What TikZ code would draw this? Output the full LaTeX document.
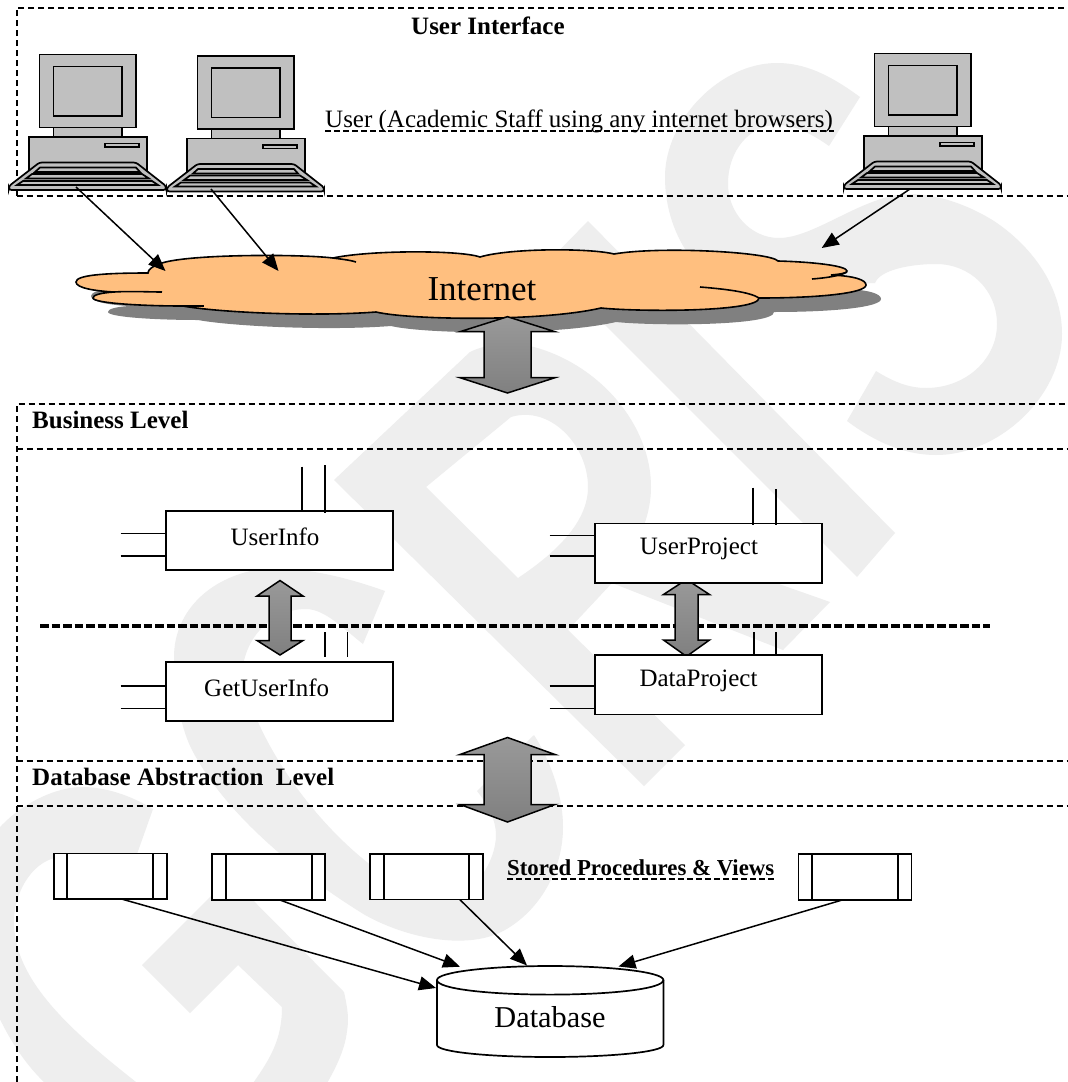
\documentclass[tikz,border=0pt]{standalone}
\usepackage{fontspec}
\setmainfont{Liberation Serif}
\usetikzlibrary{arrows.meta,calc}
\definecolor{wm}{HTML}{EEEEEE}
\definecolor{pcgrey}{HTML}{C0C0C0}
\definecolor{cloudor}{HTML}{FFBF7F}
\definecolor{shadowg}{HTML}{808080}
\newcommand\computer[2]{%
\begin{scope}[shift={(#1,#2)},line width=1.7pt,fill=pcgrey]
 \filldraw (39.5,54.5) rectangle (136,127.5);
 \filldraw (53.5,66.5) rectangle (122,116);
 \filldraw (53.5,127.5) rectangle (122,137);
 \filldraw (29,137) rectangle (147,172);
 \filldraw (105,143.5) rectangle (139,147);
 \filldraw[rounded corners=2.5pt] (39.5,162.5) -- (136,162.5) -- (166,186) -- (166,190) -- (9,190) -- (9,186) -- cycle;
 \filldraw (40,167.5) -- (136,167.5) -- (140,172) -- (35,172) -- cycle;
 \filldraw (32,174) -- (142,174) -- (149,178.5) -- (26,178.5) -- cycle;
 \filldraw (23,181) -- (152,181) -- (158,185) -- (17,185) -- cycle;
\end{scope}}
\newcommand\fatarr[8]{% cx ttip twing tbwing btip hwing hshaft name
\path[fatarrow] (#1,#2) -- (#1+#6,#3) -- (#1+#7,#3) -- (#1+#7,#4) -- (#1+#6,#4) -- (#1,#5) -- (#1-#6,#4) -- (#1-#7,#4) -- (#1-#7,#3) -- (#1-#6,#3) -- cycle;}
\newcommand\cloudpath{(148,273) .. controls (105,273) and (76,275) .. (76,282) .. controls (76,288) and (95,291) .. (114,292)
 .. controls (100,293) and (93,295) .. (93,298) .. controls (93,303) and (140,306) .. (183,306)
 .. controls (215,312) and (310,317) .. (376,312) .. controls (410,320) and (540,322) .. (601,308)
 .. controls (640,312) and (759,312) .. (759,298) .. controls (820,298) and (866,293) .. (866,285)
 .. controls (866,280) and (855,276) .. (831,275) .. controls (842,274) and (847,273) .. (847,271)
 .. controls (847,266) and (815,262) .. (778,261) .. controls (770,252) and (660,246) .. (614,254)
 .. controls (590,248) and (510,248) .. (480,257) .. controls (460,250) and (370,250) .. (333,258)
 .. controls (300,254) and (190,254) .. (162,263) .. controls (152,266) and (148,270) .. (148,273) -- cycle}
\tikzset{
 lvl/.style={line width=2pt,dash pattern=on 6pt off 4pt},
 midline/.style={line width=3.2pt,dash pattern=on 8.5pt off 3pt},
 fatarrow/.style={draw=black,line width=1.5pt,top color=black!40,bottom color=shadowg},
 classbox/.style={draw=black,fill=white,line width=1.7pt,inner sep=0pt,outer sep=0pt},
 procbox/.style={draw=black,fill=white,line width=1.7pt,inner sep=0pt,outer sep=0pt,minimum height=45.5pt,minimum width=113pt},
 stub/.style={line width=1.6pt},
 conn/.style={line width=1.5pt,-{Triangle[length=17pt,width=14pt]}},
 lab/.style={font=\fontsize{25pt}{27pt}\selectfont,inner sep=0pt},
 blab/.style={font=\fontsize{25pt}{27pt}\selectfont\bfseries,inner sep=0pt,anchor=base west},
 wmark/.style={fill=wm,even odd rule}
}
\begin{document}
\begin{tikzpicture}[x=1pt,y=-1pt]
\useasboundingbox (0,0) rectangle (1068,1082);
\fill[white] (0,0) rectangle (1068,1082);
% watermark
\begin{scope}
\clip (0,0) rectangle (1068,1082);
% S
\fill[wmark] (860,97) .. controls (830,75) and (805,63) .. (777,63) .. controls (720,63) and (665,120) .. (665,177)
 .. controls (665,215) and (680,250) .. (704,272) .. controls (725,295) and (750,306) .. (779,306)
 .. controls (810,306) and (845,283) .. (875,283) .. controls (880,270) and (910,264) .. (936,264)
 .. controls (970,264) and (997,290) .. (997,324) .. controls (997,360) and (965,388) .. (926,388)
 .. controls (908,388) and (892,381) .. (876,371) -- (847,421) .. controls (875,442) and (905,455) .. (936,455)
 .. controls (1000,455) and (1062,395) .. (1062,334) .. controls (1062,285) and (1030,245) .. (994,221)
 .. controls (965,203) and (935,194) .. (909,194) .. controls (865,194) and (815,238) .. (779,238)
 .. controls (750,238) and (728,212) .. (728,184) .. controls (728,150) and (750,125) .. (777,125)
 .. controls (795,125) and (812,134) .. (829,146) -- cycle;
% I
\fill[wmark] (588,221) -- (895,533) -- (857,577) -- (545,265) -- cycle;
% R
\fill[wmark] (334,480) -- (470,352) .. controls (490,342) and (515,343) .. (534,347)
 .. controls (600,365) and (651,425) .. (651,487) .. controls (651,505) and (646,522) .. (640,535)
 -- (830,602) -- (783,650) -- (612,583) -- (568,630) -- (685,745) -- (644,786) -- cycle
 (426,487) -- (511,417) .. controls (550,405) and (588,445) .. (588,487) .. controls (588,520) and (560,550) .. (518,578) -- cycle;
% C
\fill[wmark] (385,591) .. controls (340,575) and (295,565) .. (255,570) .. controls (205,580) and (174,615) .. (174,657)
 .. controls (174,690) and (180,725) .. (191,748) .. controls (225,815) and (300,875) .. (365,915)
 .. controls (410,940) and (470,950) .. (505,930) .. controls (540,910) and (563,870) .. (563,827)
 .. controls (563,795) and (550,760) .. (534,735) -- (477,791) .. controls (488,805) and (496,820) .. (496,835)
 .. controls (496,860) and (475,898) .. (443,898) .. controls (385,898) and (272,790) .. (242,678)
 .. controls (242,640) and (270,609) .. (306,609) .. controls (325,609) and (345,630) .. (363,644) -- cycle;
% G
\fill[wmark] (153,809) .. controls (130,795) and (105,787) .. (82,787) .. controls (40,787) and (-30,830) .. (-30,900)
 .. controls (-30,960) and (0,1040) .. (44,1082) -- (136,1082) .. controls (70,1030) and (14,980) .. (14,922)
 .. controls (14,890) and (35,857) .. (63,857) .. controls (85,857) and (105,870) .. (126,885) -- cycle;
\fill[wmark] (142,965) -- (230,877) -- (344,992) .. controls (348,1010) and (349,1020) .. (347,1031) .. controls (345,1050) and (335,1070) .. (323,1090) -- (248,1090)
 .. controls (270,1060) and (282,1040) .. (282,1007) -- (238,965) -- (190,1013) -- cycle;
\end{scope}
% level boundaries
\draw[lvl] (16.7,196) -- (16.7,7.5) -- (1068,7.5);
\draw[lvl] (16.7,196) -- (1068,196);
\draw[lvl] (16.7,1082) -- (16.7,404) -- (1068,404);
\draw[lvl] (16.7,449) -- (1068,449);
\draw[lvl] (16.7,761) -- (1068,761);
\draw[lvl] (16.7,806) -- (1068,806);
% titles
\node[blab] (t1) at (411,34) {User Interface};
\node[blab] (t2) at (32,428) {Business Level};
\node[blab] (t3) at (32,785) {Database Abstraction\ \ Level};
% computers
\computer{0}{0}
\computer{158}{1.5}
\computer{835}{-1}
% users label
\node[lab,anchor=base west] (ulab) at (325,127) {User (Academic Staff using any internet browsers)};
\draw[line width=1.5pt,dash pattern=on 6pt off 3pt] (325,131) -- (834,131);
% cloud
\fill[shadowg,shift={(15,14)}] \cloudpath;
\draw[fill=cloudor,line width=1.6pt] \cloudpath;
\draw[line width=1.6pt] (700,287) .. controls (725,289) and (750,292) .. (759,298);
\draw[line width=1.6pt] (812,279) .. controls (825,278) and (840,276) .. (847,272);
\draw[line width=1.6pt] (333,258) .. controls (340,259) and (350,260) .. (356,262);
\draw[line width=1.6pt] (114,292) .. controls (130,291) and (150,292) .. (162,292);
\draw[line width=1.6pt] (183,306) -- (204,306);
\node[lab,font=\fontsize{35pt}{37pt}\selectfont] (inet) at (482,289) {Internet};
% arrows computers to cloud
\coordinate (pc1) at (76,187);
\coordinate (pc2) at (211,189);
\coordinate (pc3) at (910,189);
\coordinate (c1) at (165.5,271);
\coordinate (c2) at (278.5,271);
\coordinate (c3) at (821.7,248);
\draw[conn] (pc1) -- (c1);
\draw[conn] (pc2) -- (c2);
\draw[conn] (pc3) -- (c3);
% big arrows
\fatarr{507.5}{316.7}{331.7}{377.7}{393}{47.5}{23.5}{a}
% mid dashed line
\draw[midline] (40,626) -- (990,626);
\fatarr{507.5}{737.5}{754.5}{804.5}{822}{47.5}{23.5}{b}
\fatarr{280}{580.5}{596}{640.5}{655}{23}{11}{c}
\fatarr{686.5}{579.5}{594.5}{640}{656.4}{23}{11.5}{d}
% business boxes
\node[classbox,minimum width=226.4pt,minimum height=59.3pt] (ui) at (279.5,540.3) {};
\node[classbox,minimum width=226.4pt,minimum height=59pt] (gui) at (279.5,691.2) {};
\node[classbox,minimum width=226.5pt,minimum height=59.5pt] (up) at (708.5,553.2) {};
\node[classbox,minimum width=226.5pt,minimum height=59.6pt] (dp) at (708.5,684.8) {};
\node[lab] (uilab) at (275,536.7) {UserInfo};
\node[lab] (guilab) at (266.7,688) {GetUserInfo};
\node[lab] (uplab) at (699,548.6) {UserProject};
\node[lab] (dplab) at (698.5,680.7) {DataProject};
\draw[stub] (120.7,533.3) -- (ui.west |- 0,533.3);
\draw[stub] (120.7,555.7) -- (ui.west |- 0,555.7);
\draw[stub] (302,466.7) -- (302,510.7);
\draw[stub] (324.7,465) -- (324.7,513);
\draw[stub] (120.7,685.7) -- (gui.west |- 0,685.7);
\draw[stub] (120.7,708.3) -- (gui.west |- 0,708.3);
\draw[stub] (324.7,632) -- (324.7,656.7);
\draw[stub] (347.3,632) -- (347.3,656.7);
\draw[stub] (549.7,535.5) -- (up.west |- 0,535.5);
\draw[stub] (549.7,555.8) -- (up.west |- 0,555.8);
\draw[stub] (753,487.6) -- (753,525);
\draw[stub] (776,489) -- (776,525);
\draw[stub] (549.7,686) -- (dp.west |- 0,686);
\draw[stub] (549.7,708.4) -- (dp.west |- 0,708.4);
\draw[stub] (753.9,632.4) -- (753.9,655);
\draw[stub] (776,632.4) -- (776,655);
% stored procedures
\node[procbox] (p1) at (110.4,876.3) {};
\draw[line width=1.7pt] (67.3,853.7) -- (67.3,899) (153,853.7) -- (153,899);
\node[procbox] (p2) at (268.4,877) {};
\draw[line width=1.7pt] (225.7,854.3) -- (225.7,899.7) (311.7,854.3) -- (311.7,899.7);
\node[procbox] (p3) at (426.5,876.8) {};
\draw[line width=1.7pt] (383.9,854.2) -- (383.9,899.4) (469.3,854.2) -- (469.3,899.4);
\node[procbox] (p4) at (854.9,877) {};
\draw[line width=1.7pt] (812.3,854.3) -- (812.3,899.7) (897.8,854.3) -- (897.8,899.7);
\node[blab,font=\fontsize{22.8pt}{24pt}\selectfont\bfseries] (splab) at (507,875) {Stored Procedures \& Views};
\draw[line width=2pt,dash pattern=on 6pt off 3pt] (507,879) -- (774,879);
% database
\path[draw=black,fill=white,line width=1.7pt] (437,980) .. controls (437,972) and (490,966) .. (550,966) .. controls (610,966) and (663.4,972) .. (663.4,980)
 -- (663.4,1045) .. controls (663.4,1052) and (610,1057) .. (550,1057) .. controls (490,1057) and (437,1052) .. (437,1045) -- cycle;
\draw[line width=1.7pt] (437,980) .. controls (437,989) and (490,994.6) .. (550,994.6) .. controls (610,994.6) and (663.4,989) .. (663.4,980);
\node[lab,font=\fontsize{30.3pt}{32pt}\selectfont] (db) at (550,1017) {Database};
\coordinate (d1) at (436,988);
\coordinate (d2) at (460,966.7);
\coordinate (d3) at (527,965.5);
\coordinate (d4) at (618.5,966.5);
\draw[conn] (p1.south -| 121.7,0) -- (d1);
\draw[conn] (p2.south -| 279.3,0) -- (d2);
\draw[conn] (p3.south -| 459.8,0) -- (d3);
\draw[conn] (p4.south -| 843,0) -- (d4);
\end{tikzpicture}
\end{document}
